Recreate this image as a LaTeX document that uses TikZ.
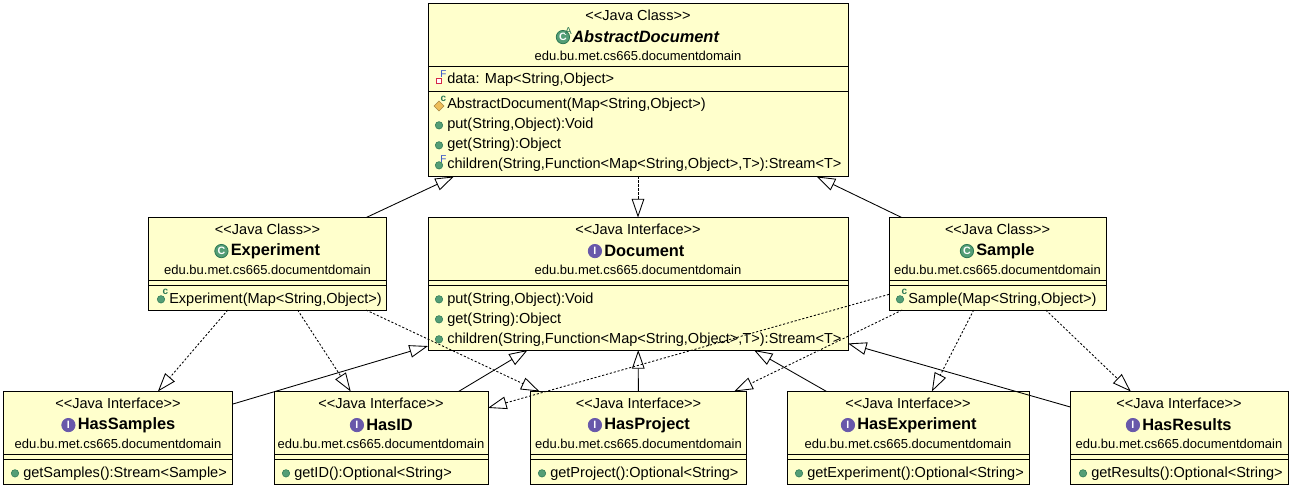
\documentclass[tikz,border=0pt]{standalone}
\usepackage{xcolor}
\usepackage{fontspec}
\setmainfont{Liberation Sans}
\usetikzlibrary{shapes.geometric, arrows.meta, positioning}
\definecolor{boxfill}{RGB}{255,255,204}
\definecolor{mygreen}{RGB}{84,158,118}
\definecolor{mydkgreen}{RGB}{44,120,84}
\definecolor{mypurple}{RGB}{104,88,170}
\definecolor{myblue}{RGB}{50,80,200}
\definecolor{myred}{RGB}{214,40,70}
\definecolor{myamber}{RGB}{238,190,90}
\tikzset{
  umlbox/.style={rectangle, draw=black, fill=boxfill, line width=0.65pt,
    anchor=north west, outer sep=0pt, inner sep=0pt},
  sepline/.style={draw=black, line width=0.65pt},
  stereo/.style={font=\fontsize{10.9pt}{12pt}\selectfont, inner sep=0pt},
  pkgname/.style={font=\fontsize{9.75pt}{12pt}\selectfont, inner sep=0pt, yshift=-0.4pt},
  clsname/.style={font=\fontsize{12.3pt}{14pt}\selectfont\bfseries, anchor=west, inner sep=0pt, yshift=-0.8pt},
  member/.style={font=\fontsize{10.9pt}{12pt}\selectfont, anchor=west, inner sep=0pt,
    text height=7.8pt, text depth=2.3pt, yshift=-1pt},
  classicon/.style={circle, draw=mydkgreen, fill=mygreen, minimum size=10pt, inner sep=0pt,
    line width=0.6pt, text=white, font=\fontsize{8pt}{8pt}\selectfont\bfseries, left=1.5pt of #1},
  ifaceicon/.style={circle, draw=mypurple, fill=mypurple, minimum size=10pt, inner sep=0pt,
    line width=0.6pt, text=white, font=\fontsize{8pt}{8pt}\selectfont\bfseries, left=1.5pt of #1},
  pubicon/.style={circle, draw=mydkgreen, fill=mygreen, minimum size=5.6pt, inner sep=0pt,
    line width=0.4pt, left=3pt of #1},
  smallc/.style={font=\fontsize{7.5pt}{7.5pt}\selectfont\bfseries, text=mydkgreen, inner sep=0pt},
  smallf/.style={font=\fontsize{7.5pt}{7.5pt}\selectfont, text=myblue, inner sep=0pt},
  extends/.style={-{Triangle[open,length=14pt,width=9.5pt]}, line width=0.65pt, color=black},
  implements/.style={-{Triangle[open,length=14pt,width=9.5pt]}, line width=0.65pt, color=black,
    dash pattern=on 1.6pt off 1.4pt}
}
\begin{document}
\begin{tikzpicture}[x=0.75pt, y=-0.75pt]
  \useasboundingbox (0,0) rectangle (1291,488);
  % Top class
  \node[umlbox, minimum width=315pt, minimum height=129.75pt] (abstractdoc) at (428,3.5) {};
  \draw[sepline] (abstractdoc.west |- 0,66) -- (abstractdoc.east |- 0,66);
  \draw[sepline] (abstractdoc.west |- 0,91) -- (abstractdoc.east |- 0,91);
  \node[stereo] (abstractst) at (638,15) {<{}<Java Class>{}>};
  \node[clsname, font=\fontsize{12.3pt}{14pt}\selectfont\bfseries\itshape] (abstractname) at (572,36) {AbstractDocument};
  \node[classicon=abstractname] (abstracticon) {C};
  \node[smallf, text=mydkgreen] (abstracta) at (568.5,31.5) {A};
  \node[pkgname] (abstractpkg) at (638,55) {edu.bu.met.cs665.documentdomain};
  \node[member] (abstractdata) at (447,79) {data: Map<String,Object>};
  \node[rectangle, draw=myred, fill=white, minimum size=3.5pt, inner sep=0pt, line width=1pt] (dataicon) at (439,81) {};
  \node[smallf] (dataf) at (443.5,74.5) {F};
  \node[member] (abstractctor) at (447,104) {AbstractDocument(Map<String,Object>)};
  \node[diamond, draw=myamber!70!black, fill=myamber, minimum size=7.5pt, inner sep=0pt, line width=0.4pt] (ctoricon) at (439,106) {};
  \node[smallc] (ctorc) at (443.5,98.5) {c};
  \node[member] (abstractput) at (447,124) {put(String,Object):Void};
  \node[pubicon=abstractput] (abstractputicon) {};
  \node[member] (abstractget) at (447,144) {get(String):Object};
  \node[pubicon=abstractget] (abstractgeticon) {};
  \node[member] (abstractchild) at (447,164) {children(String,Function<Map<String,Object>,T>):Stream<T>};
  \node[pubicon=abstractchild] (abstractchildicon) {};
  \node[smallf] (childf) at (443.5,159) {F};
  % Middle row
  \node[umlbox, minimum width=178.5pt, minimum height=69.4pt] (experiment) at (148.5,217.5) {};
  \draw[sepline] (experiment.west |- 0,280) -- (experiment.east |- 0,280);
  \draw[sepline] (experiment.west |- 0,285.5) -- (experiment.east |- 0,285.5);
  \node[stereo] (experimentst) at (267.5,229) {<{}<Java Class>{}>};
  \node[clsname] (experimentname) at (230.5,250) {Experiment};
  \node[classicon=experimentname] (experimenticon) {C};
  \node[pkgname] (experimentpkg) at (267.5,269) {edu.bu.met.cs665.documentdomain};
  \node[member] (experimentctor) at (169,298) {Experiment(Map<String,Object>)};
  \node[pubicon=experimentctor] (experimentctoricon) {};
  \node[smallc] (experimentc) at (165.5,292) {c};

  \node[umlbox, minimum width=315pt, minimum height=99.4pt] (document) at (428,217.5) {};
  \draw[sepline] (document.west |- 0,280) -- (document.east |- 0,280);
  \draw[sepline] (document.west |- 0,285.5) -- (document.east |- 0,285.5);
  \node[stereo] (documentst) at (638,229) {<{}<Java Interface>{}>};
  \node[clsname] (documentname) at (604,250) {Document};
  \node[ifaceicon=documentname] (documenticon) {I};
  \node[pkgname] (documentpkg) at (638,269) {edu.bu.met.cs665.documentdomain};
  \node[member] (documentput) at (447,298) {put(String,Object):Void};
  \node[pubicon=documentput] (documentputicon) {};
  \node[member] (documentget) at (447,318) {get(String):Object};
  \node[pubicon=documentget] (documentgeticon) {};
  \node[member] (documentchild) at (447,338) {children(String,Function<Map<String,Object>,T>):Stream<T>};
  \node[pubicon=documentchild] (documentchildicon) {};

  \node[umlbox, minimum width=162.75pt, minimum height=69.4pt] (sample) at (889,217.5) {};
  \draw[sepline] (sample.west |- 0,280) -- (sample.east |- 0,280);
  \draw[sepline] (sample.west |- 0,285.5) -- (sample.east |- 0,285.5);
  \node[stereo] (samplest) at (997.5,229) {<{}<Java Class>{}>};
  \node[clsname] (samplename) at (976,250) {Sample};
  \node[classicon=samplename] (sampleicon) {C};
  \node[pkgname] (samplepkg) at (997.5,269) {edu.bu.met.cs665.documentdomain};
  \node[member] (samplector) at (908,298) {Sample(Map<String,Object>)};
  \node[pubicon=samplector] (samplectoricon) {};
  \node[smallc] (samplec) at (904.5,292) {c};
  % Bottom row
  \node[umlbox, minimum width=171.75pt, minimum height=69.75pt] (hassamples) at (3.5,391.5) {};
  \draw[sepline] (hassamples.west |- 0,454) -- (hassamples.east |- 0,454);
  \draw[sepline] (hassamples.west |- 0,459) -- (hassamples.east |- 0,459);
  \node[stereo] (hassamplesst) at (118,403) {<{}<Java Interface>{}>};
  \node[clsname] (hassamplesname) at (77.5,424) {HasSamples};
  \node[ifaceicon=hassamplesname] (hassamplesicon) {I};
  \node[pkgname] (hassamplespkg) at (118,443) {edu.bu.met.cs665.documentdomain};
  \node[member] (hassamplesget) at (23,472) {getSamples():Stream<Sample>};
  \node[pubicon=hassamplesget] (hassamplesgeticon) {};

  \node[umlbox, minimum width=160.5pt, minimum height=69.75pt] (hasid) at (274,391.5) {};
  \draw[sepline] (hasid.west |- 0,454) -- (hasid.east |- 0,454);
  \draw[sepline] (hasid.west |- 0,459) -- (hasid.east |- 0,459);
  \node[stereo] (hasidst) at (381,403) {<{}<Java Interface>{}>};
  \node[clsname] (hasidname) at (366,424) {HasID};
  \node[ifaceicon=hasidname] (hasidicon) {I};
  \node[pkgname] (hasidpkg) at (381,443) {edu.bu.met.cs665.documentdomain};
  \node[member] (hasidget) at (294,472) {getID():Optional<String>};
  \node[pubicon=hasidget] (hasidgeticon) {};

  \node[umlbox, minimum width=162pt, minimum height=69.75pt] (hasproject) at (530.5,391.5) {};
  \draw[sepline] (hasproject.west |- 0,454) -- (hasproject.east |- 0,454);
  \draw[sepline] (hasproject.west |- 0,459) -- (hasproject.east |- 0,459);
  \node[stereo] (hasprojectst) at (638.5,403) {<{}<Java Interface>{}>};
  \node[clsname] (hasprojectname) at (604,424) {HasProject};
  \node[ifaceicon=hasprojectname] (hasprojecticon) {I};
  \node[pkgname] (hasprojectpkg) at (638.5,443) {edu.bu.met.cs665.documentdomain};
  \node[member] (hasprojectget) at (550,472) {getProject():Optional<String>};
  \node[pubicon=hasprojectget] (hasprojectgeticon) {};

  \node[umlbox, minimum width=181.5pt, minimum height=69.75pt] (hasexperiment) at (787,391.5) {};
  \draw[sepline] (hasexperiment.west |- 0,454) -- (hasexperiment.east |- 0,454);
  \draw[sepline] (hasexperiment.west |- 0,459) -- (hasexperiment.east |- 0,459);
  \node[stereo] (hasexperimentst) at (908,403) {<{}<Java Interface>{}>};
  \node[clsname] (hasexperimentname) at (857,424) {HasExperiment};
  \node[ifaceicon=hasexperimentname] (hasexperimenticon) {I};
  \node[pkgname] (hasexperimentpkg) at (908,443) {edu.bu.met.cs665.documentdomain};
  \node[member] (hasexperimentget) at (807,472) {getExperiment():Optional<String>};
  \node[pubicon=hasexperimentget] (hasexperimentgeticon) {};

  \node[umlbox, minimum width=163.1pt, minimum height=69.75pt] (hasresults) at (1070.5,391.5) {};
  \draw[sepline] (hasresults.west |- 0,454) -- (hasresults.east |- 0,454);
  \draw[sepline] (hasresults.west |- 0,459) -- (hasresults.east |- 0,459);
  \node[stereo] (hasresultsst) at (1179,403) {<{}<Java Interface>{}>};
  \node[clsname] (hasresultsname) at (1142,424) {HasResults};
  \node[ifaceicon=hasresultsname] (hasresultsicon) {I};
  \node[pkgname] (hasresultspkg) at (1179,443) {edu.bu.met.cs665.documentdomain};
  \node[member] (hasresultsget) at (1091,472) {getResults():Optional<String>};
  \node[pubicon=hasresultsget] (hasresultsgeticon) {};
  % Inheritance
  \draw[extends] (experiment) -- (abstractdoc);
  \draw[extends] (sample) -- (abstractdoc);
  \draw[extends] (hassamples) -- (document);
  \draw[extends] (hasid) -- (document);
  \draw[extends] (hasproject) -- (document);
  \draw[extends] (hasexperiment) -- (document);
  \draw[extends] (hasresults) -- (document);
  % Realization
  \draw[implements] (abstractdoc) -- (document);
  \draw[implements] (experiment) -- (hassamples);
  \draw[implements] (experiment) -- (hasid);
  \draw[implements] (experiment) -- (hasproject);
  \draw[implements] (sample) -- (hasid);
  \draw[implements] (sample) -- (hasproject);
  \draw[implements] (sample) -- (hasexperiment);
  \draw[implements] (sample) -- (hasresults);
\end{tikzpicture}
\end{document}
